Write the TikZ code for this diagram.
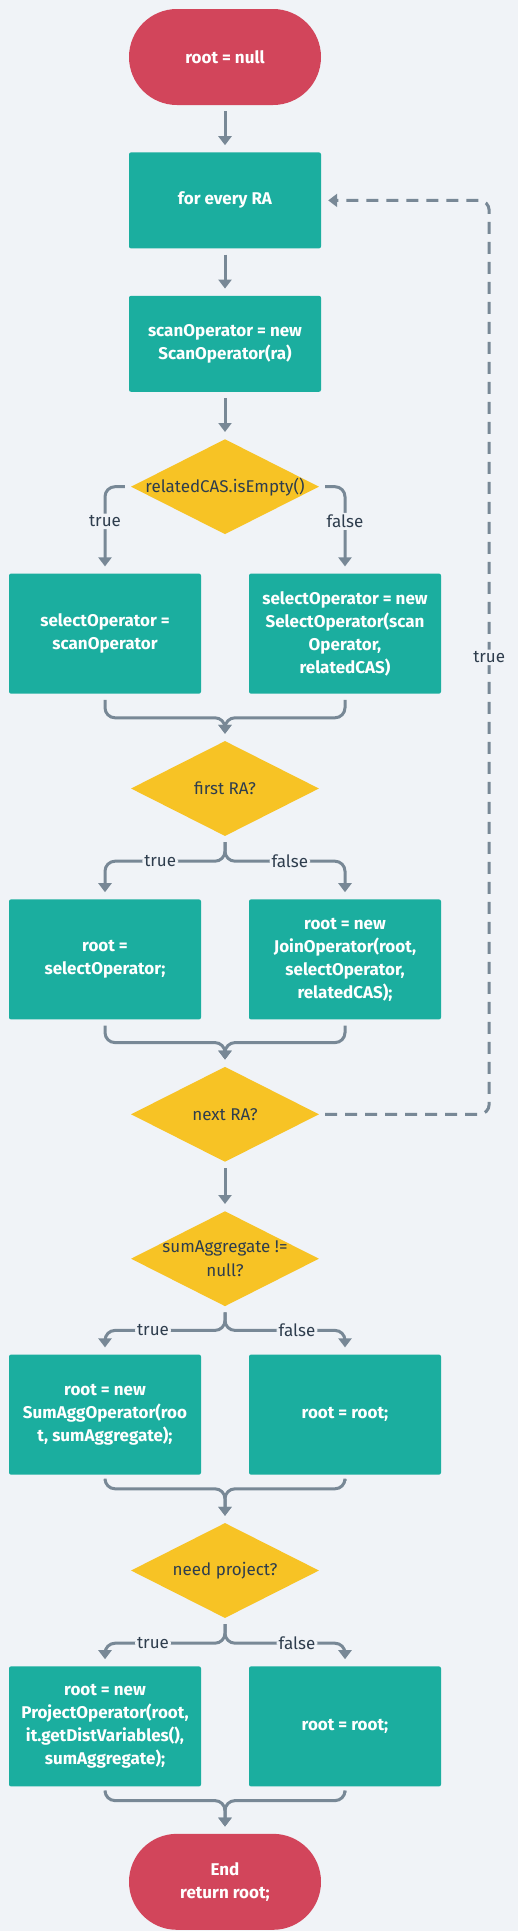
\documentclass[tikz,border=0pt]{standalone}
\usepackage{fontspec}
\setmainfont{Fira Sans}
\usepackage{tikz}
\usetikzlibrary{shapes,arrows,arrows.meta,positioning}
\definecolor{bgcol}{HTML}{F0F3F7}
\definecolor{termcol}{HTML}{D2455B}
\definecolor{proccol}{HTML}{1BAE9F}
\definecolor{condcol}{HTML}{F7C325}
\definecolor{linecol}{HTML}{788896}
\definecolor{textcol}{HTML}{2E3D4D}
\newcommand{\boxwidth}{192pt}
\newcommand{\vgap}{47pt}
\newcommand{\hshift}{120pt}
\tikzset{
    node distance = \vgap,
    term/.style = { rectangle, fill=termcol, rounded corners=48pt,
        align=center, text=white,
        minimum width = \boxwidth, minimum height = 96pt,
        font=\bfseries\fontsize{17}{23}\selectfont
    },
    proc/.style = { rectangle, fill=proccol, rounded corners=2pt,
        align=center, text=white,
        minimum width = \boxwidth, minimum height = 96pt,
        font=\bfseries\fontsize{17}{23}\selectfont
    },
    tproc/.style = { proc, minimum height = 120pt },
    cond/.style = { diamond, fill=condcol, inner sep=0pt,
        minimum width = 188pt, minimum height = 95pt
    },
    ctext/.style = { align=center, text=textcol,
        font=\fontsize{17}{24}\selectfont
    },
    lbl/.style = { fill=bgcol, text=textcol, inner sep=2pt,
        font=\fontsize{17}{18}\selectfont
    },
    flow/.style = { draw=linecol, line width=3pt, rounded corners=10pt,
        -{Triangle[width=13pt,length=9pt]},
        shorten <= 6pt, shorten >= 7pt
    },
    back/.style = { flow, dash pattern=on 12pt off 8pt }
}
\begin{document}
\begin{tikzpicture}
        \fill[bgcol] (0pt,0pt) rectangle (518pt,-1931pt);
        \useasboundingbox (0pt,0pt) rectangle (518pt,-1931pt);

        \node[term] (start) at (225pt,-57pt) {root = null};
        \node[proc] (every) [below = of start] {for every RA};
        \node[proc] (scan) [below = of every] {scanOperator = new\\ScanOperator(ra)};
        % relatedCAS branch...
        \node[cond, label={[ctext]center:relatedCAS.isEmpty()}] (d1) [below = of scan] {};
        \node[tproc] (sel1) [below = 39pt of d1, xshift=-\hshift] {selectOperator =\\scanOperator};
        \node[tproc] (sel2) [below = 39pt of d1, xshift=\hshift] {selectOperator = new\\SelectOperator(scan\\Operator,\\relatedCAS)};
        % first RA branch...
        \node[cond, label={[ctext]center:first RA?}] (d2) [below = of sel1, xshift=\hshift] {};
        \coordinate[above = 23pt of d2] (j1);
        \coordinate[below = 25pt of d2] (f1);
        \node[tproc] (join1) [below = 63pt of d2, xshift=-\hshift] {root =\\selectOperator;};
        \node[tproc] (join2) [below = 63pt of d2, xshift=\hshift] {root = new\\JoinOperator(root,\\selectOperator,\\relatedCAS);};
        % next RA...
        \node[cond, label={[ctext]center:next RA?}] (d3) [below = of join1, xshift=\hshift] {};
        \coordinate[above = 24pt of d3] (j2);
        \coordinate[right = 170pt of d3] (loop);
        % sumAggregate branch...
        \node[cond, label={[ctext]center:{sumAggregate !=\\null?}}] (d4) [below = 49pt of d3] {};
        \coordinate[below = 24pt of d4] (f2);
        \node[tproc] (sum1) [below = 48pt of d4, xshift=-\hshift] {root = new\\SumAggOperator(roo\\t, sumAggregate);};
        \node[tproc] (sum2) [below = 48pt of d4, xshift=\hshift] {root = root;};
        % need project branch...
        \node[cond, label={[ctext]center:need project?}] (d5) [below = 48pt of sum1, xshift=\hshift] {};
        \coordinate[above = 34pt of d5] (j3);
        \coordinate[below = 25pt of d5] (f3);
        \node[tproc] (proj1) [below = 48pt of d5, xshift=-\hshift] {root = new\\ProjectOperator(root,\\it.getDistVariables(),\\sumAggregate);};
        \node[tproc] (proj2) [below = 48pt of d5, xshift=\hshift] {root = root;};
        \node[term] (stop) [below = of proj1, xshift=\hshift] {End\\return root;};
        \coordinate[above = 33pt of stop] (j4);

        % arrows...
        \draw[flow] (start) -- (every);
        \draw[flow] (every) -- (scan);
        \draw[flow] (scan) -- (d1);
        \draw[flow] (d1.west) -| node[lbl, pos=0.7] {true} (sel1.north);
        \draw[flow] (d1.east) -| node[lbl, pos=0.7] {false} (sel2.north);
        \draw[flow] (sel1.south) |- (j1) -- (d2.north);
        \draw[flow] (sel2.south) |- (j1) -- (d2.north);
        \draw[flow] (d2.south) -- (f1) -| node[lbl, pos=0.27] {true} (join1.north);
        \draw[flow] (d2.south) -- (f1) -| node[lbl, pos=0.27] {false} (join2.north);
        \draw[flow] (join1.south) |- (j2) -- (d3.north);
        \draw[flow] (join2.south) |- (j2) -- (d3.north);
        \draw[back] (d3.east) -- (loop) |- node[lbl, pos=0.25] {true} (every.east);
        \draw[flow] (d3) -- (d4);
        \draw[flow] (d4.south) -- (f2) -| node[lbl, pos=0.3] {true} (sum1.north);
        \draw[flow] (d4.south) -- (f2) -| node[lbl, pos=0.3] {false} (sum2.north);
        \draw[flow] (sum1.south) |- (j3) -- (d5.north);
        \draw[flow] (sum2.south) |- (j3) -- (d5.north);
        \draw[flow] (d5.south) -- (f3) -| node[lbl, pos=0.3] {true} (proj1.north);
        \draw[flow] (d5.south) -- (f3) -| node[lbl, pos=0.3] {false} (proj2.north);
        \draw[flow] (proj1.south) |- (j4) -- (stop.north);
        \draw[flow] (proj2.south) |- (j4) -- (stop.north);

    \end{tikzpicture}
\end{document}
